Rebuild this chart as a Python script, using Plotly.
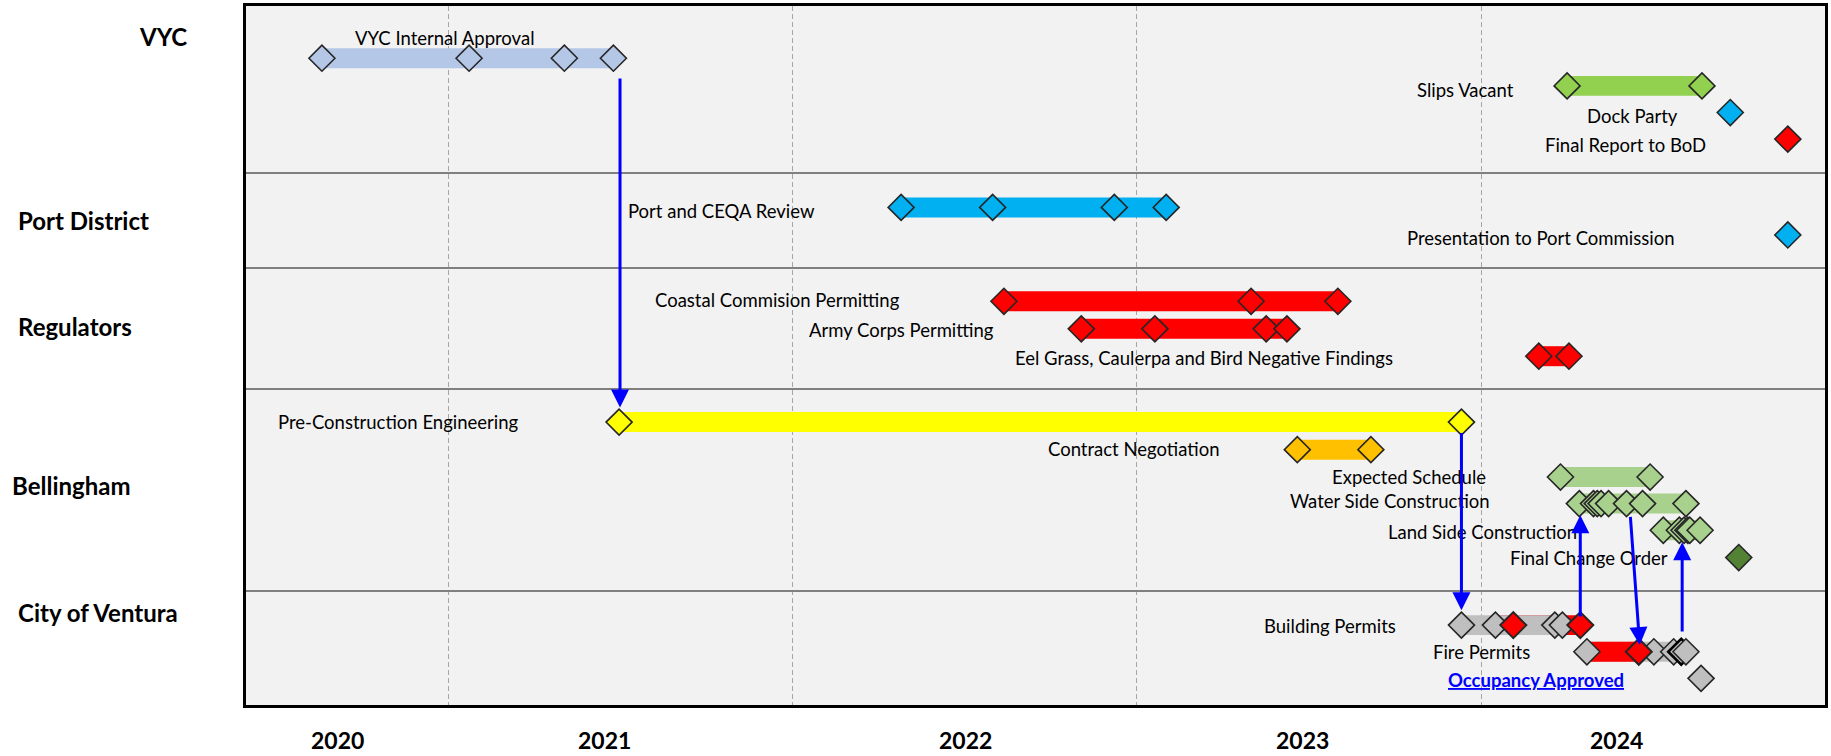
import plotly.graph_objects as go
import pandas as pd

# ------------------------------------------------------------------ data
row_groups = ["VYC", "Port District", "Regulators", "Bellingham", "City of Ventura"]
year_labels = ["2020", "2021", "2022", "2023", "2024"]
year_label_dates = ["2020-03-05", "2020-12-14", "2021-12-31", "2022-12-23", "2023-11-21"]
gridline_dates = ["2020-07-01", "2021-07-01", "2022-07-01", "2023-07-01"]

vyc_internal_approval = ["2020-02-18", "2020-07-23", "2020-11-01", "2020-12-23"]
slips_vacant = ["2023-09-30", "2024-02-20"]
dock_party = ["2024-03-21"]
final_report_bod = ["2024-05-21"]

port_ceqa_review = ["2021-10-24", "2022-01-29", "2022-06-07", "2022-08-01"]
port_commission = ["2024-05-21"]

coastal_permitting = ["2022-02-10", "2022-10-30", "2023-01-30"]
army_corps_permitting = ["2022-05-03", "2022-07-20", "2022-11-15", "2022-12-07"]
eel_grass_findings = ["2023-08-31", "2023-10-02"]

pre_construction = ["2020-12-29", "2023-06-10"]
contract_negotiation = ["2022-12-18", "2023-03-06"]
expected_schedule = ["2023-09-23", "2023-12-27"]
water_side = ["2023-10-13", "2023-10-28", "2023-11-01", "2023-11-05",
              "2023-11-13", "2023-12-02", "2023-12-19", "2024-02-03"]
land_side = ["2024-01-10", "2024-01-27", "2024-02-01", "2024-02-05",
             "2024-02-07", "2024-02-18"]
final_change_order = ["2024-03-30"]

building_permits_red = ["2023-08-04", "2023-10-14"]
building_permits_grey = ["2023-06-10", "2023-07-16", "2023-09-17", "2023-09-25"]
building_red_span = ["2023-07-16", "2023-10-14"]
building_grey_span = ["2023-06-10", "2023-09-25"]
fire_permits_red = ["2023-12-15"]
fire_permits_grey = ["2023-10-21", "2023-12-31", "2024-01-21", "2024-01-29", "2024-02-03"]
fire_red_span = ["2023-10-21", "2023-12-15"]
fire_grey_span = ["2023-10-21", "2024-02-03"]
occupancy_approved = ["2024-02-19"]

# dependency arrows: (tail date, tip date, tail lane, tip lane)
arrow_links = [
    ("2020-12-30", "2020-12-30", "vyc_top", "pce_top"),
    ("2023-06-10", "2023-06-10", "pce_bottom", "bp_top"),
    ("2023-10-14", "2023-10-14", "bp_up", "ws_bottom"),
    ("2023-12-06", "2023-12-16", "ws_bottom", "fp_top"),
    ("2024-01-30", "2024-01-30", "fp_up", "ls_bottom"),
]

# ------------------------------------------------------------------ layout helpers
W, H = 1831, 756
PL, PR, PT, PB = 246, 1828, 5, 705          # plot area in page pixels
LANE = {
    "vyc": 57.3, "slips": 85.0, "dock": 111.7, "bod": 138.3,
    "ceqa": 206.7, "commission": 234.3,
    "coastal": 300.7, "army": 328.3, "eel": 355.7,
    "pce": 421.7, "contract": 449.3, "expected": 476.7, "water": 503.3,
    "land": 530.0, "change": 557.3,
    "building": 625.0, "fire": 651.7, "occupancy": 678.3,
    # arrow anchors
    "vyc_top": 76, "pce_top": 407, "pce_bottom": 431, "bp_top": 610,
    "bp_up": 618, "ws_bottom": 515, "fp_top": 645, "fp_up": 633, "ls_bottom": 542,
}
SEPARATORS = [172.7, 267.3, 389.0, 591.0]

FONT = "Lato"
BAR_H = 20
OUTLINE = "#262626"

fig = go.Figure()


def bar(dates, lane, color):
    s, e = pd.Timestamp(dates[0]), pd.Timestamp(dates[-1])
    fig.add_trace(go.Bar(
        base=[dates[0]], x=[(e - s).total_seconds() * 1000], y=[LANE[lane]],
        orientation="h", width=BAR_H, marker=dict(color=color, line=dict(width=0)),
        hoverinfo="skip", showlegend=False))


def diamonds(dates, lane, color, lw=1.6, lc=OUTLINE):
    fig.add_trace(go.Scatter(
        x=dates, y=[LANE[lane]] * len(dates), mode="markers",
        marker=dict(symbol="diamond", size=20, color=color, line=dict(color=lc, width=lw)),
        hoverinfo="skip", showlegend=False))


LBLUE, CYAN, RED, YEL, ORG = "#b4c7e7", "#00b0f0", "#ff0000", "#ffff00", "#ffc000"
GRN, LGRN, DGRN, GREY = "#92d050", "#a9d18e", "#548235", "#bfbfbf"

# bars
bar(vyc_internal_approval, "vyc", LBLUE)
bar(slips_vacant, "slips", GRN)
bar(port_ceqa_review, "ceqa", CYAN)
bar(coastal_permitting, "coastal", RED)
bar(army_corps_permitting, "army", RED)
bar(eel_grass_findings, "eel", RED)
bar(pre_construction, "pce", YEL)
bar(contract_negotiation, "contract", ORG)
bar(expected_schedule, "expected", LGRN)
bar(water_side, "water", LGRN)
bar(land_side, "land", LGRN)
bar(building_red_span, "building", RED)
bar(building_grey_span, "building", GREY)
bar(fire_grey_span, "fire", GREY)
bar(fire_red_span, "fire", RED)

# diamonds
diamonds(vyc_internal_approval, "vyc", LBLUE)
diamonds(slips_vacant, "slips", GRN)
diamonds(dock_party, "dock", CYAN)
diamonds(final_report_bod, "bod", RED)
diamonds(port_ceqa_review, "ceqa", CYAN)
diamonds(port_commission, "commission", CYAN)
diamonds(coastal_permitting, "coastal", RED)
diamonds(army_corps_permitting, "army", RED)
diamonds(eel_grass_findings, "eel", RED)
diamonds(pre_construction, "pce", YEL)
diamonds(contract_negotiation, "contract", ORG)
diamonds(expected_schedule, "expected", LGRN)
diamonds(water_side, "water", LGRN)
diamonds(land_side, "land", LGRN)
diamonds(final_change_order, "change", DGRN)
diamonds(building_permits_grey, "building", GREY)
diamonds(building_permits_red, "building", RED, lw=2)
diamonds(fire_permits_grey[:3], "fire", GREY)
diamonds(fire_permits_red, "fire", RED, lw=2)
diamonds(fire_permits_grey[3:4], "fire", GREY, lw=2.6, lc="#000000")
diamonds(fire_permits_grey[4:], "fire", GREY)
diamonds(occupancy_approved, "occupancy", GREY)


def px(x):
    return (x - PL) / (PR - PL)


def py(y):
    return (PB - y) / (PB - PT)


ann = []
# task labels: (text, right-edge page x, centre y)
task_labels = [
    ("Slips Vacant", 1518.6, 88.7), ("Dock Party", 1683, 114.7),
    ("Final Report to BoD", 1711, 143.7), ("Port and CEQA Review", 818, 210.3),
    ("Presentation to Port Commission", 1680, 237.3),
    ("Coastal Commision Permitting", 903.6, 299.7), ("Army Corps Permitting", 997.3, 329),
    ("Eel Grass, Caulerpa and Bird Negative Findings", 1396.7, 357.3),
    ("Pre-Construction Engineering", 521.4, 422), ("Contract Negotiation", 1223.7, 449),
    ("Expected Schedule", 1490, 477), ("Water Side Construction", 1494.5, 501),
    ("Land Side Construction", 1581.6, 531.3), ("Final Change Order", 1672.4, 558),
    ("Building Permits", 1400, 626.3), ("Fire Permits", 1534.5, 652),
]
for t, x, y in task_labels:
    ann.append(dict(text=t, x=px(x), y=py(y), xref="paper", yref="paper",
                    xanchor="right", yanchor="middle", showarrow=False,
                    font=dict(family=FONT, size=18.5, color="#000000")))
ann.append(dict(text="VYC Internal Approval", x=px(445), y=py(37.5), xref="paper", yref="paper",
                xanchor="center", yanchor="middle", showarrow=False,
                font=dict(family=FONT, size=18.5, color="#000000")))
ann.append(dict(text="<b>Occupancy Approved</b>", x=px(1538), y=py(680), xref="paper", yref="paper",
                xanchor="center", yanchor="middle", showarrow=False,
                font=dict(family=FONT, size=18.5, color="#0000ff", lineposition="under")))

# group labels
group_pos = [(137, 36), (15.6, 220), (15.6, 326), (10, 485), (15.6, 612)]
for g, (x, y) in zip(row_groups, group_pos):
    ann.append(dict(text="<b>%s</b>" % g, x=px(x), y=py(y), xref="paper", yref="paper",
                    xanchor="left", yanchor="middle", showarrow=False,
                    font=dict(family=FONT, size=24, color="#000000")))

# year labels
for lab, d in zip(year_labels, year_label_dates):
    ann.append(dict(text="<b>%s</b>" % lab, x=d, y=py(740), xref="x", yref="paper",
                    xanchor="center", yanchor="middle", showarrow=False,
                    font=dict(family=FONT, size=23, color="#000000")))

# arrows
for tail_d, tip_d, tail_l, tip_l in arrow_links:
    ann.append(dict(x=tip_d, y=LANE[tip_l], ax=tail_d, ay=LANE[tail_l],
                    xref="x", yref="y", axref="x", ayref="y", text="",
                    showarrow=True, arrowhead=2, arrowsize=1.2, arrowwidth=3,
                    arrowcolor="#0000ff", standoff=0, startstandoff=0))

fig.update_layout(
    width=W, height=H,
    margin=dict(l=PL, r=W - PR, t=PT, b=H - PB, pad=0),
    paper_bgcolor="#ffffff", plot_bgcolor="#f2f2f2",
    barmode="overlay", showlegend=False,
    font=dict(family=FONT, size=18, color="#000000"),
    annotations=ann,
    xaxis=dict(type="date", range=["2019-11-29 12:00", "2024-06-29 10:00"],
               tickvals=gridline_dates, showticklabels=False, ticks="",
               showgrid=True, gridcolor="#a6a6a6", gridwidth=1, griddash="5px,3px",
               showline=True, linecolor="#000000", linewidth=3, mirror=True,
               zeroline=False, fixedrange=True),
    yaxis=dict(range=[PB, PT], tickvals=SEPARATORS, showticklabels=False, ticks="",
               showgrid=True, gridcolor="#808080", gridwidth=2,
               showline=True, linecolor="#000000", linewidth=3, mirror=True,
               zeroline=False, fixedrange=True),
)

fig.write_html("out.html")
